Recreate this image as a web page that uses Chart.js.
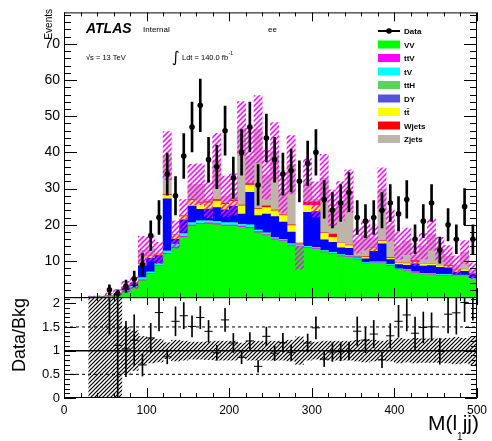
<!DOCTYPE html>
<html>
<head>
<meta charset="utf-8">
<script src="https://cdn.jsdelivr.net/npm/chart.js@4.4.0/dist/chart.umd.min.js"></script>
<style>
    html, body { margin: 0; padding: 0; background: #fff; }
    canvas { display: block; }
</style>
</head>
<body>
<canvas id="chart" width="492" height="441"></canvas>
<script>
// bin centres of M(ljj), 10 GeV bins
var binCenters = [35, 45, 55, 65, 75, 85, 95, 105, 115, 125, 135, 145, 155, 165, 175, 185, 195, 205, 215, 225,
    235, 245, 255, 265, 275, 285, 295, 305, 315, 325, 335, 345, 355, 365, 375, 385, 395, 405, 415, 425,
    435, 445, 455, 465, 475, 485, 495];

// stacked backgrounds, bottom to top
var vv = [0.05, 0.1, 0.25, 0.5, 1.6, 2.6, 4.5, 6.3, 8.6, 11.8, 13.5, 16.5, 19.6, 20.1, 20.2, 20.0, 19.6, 19.6, 19.3, 19.0,
    17.8, 17.0, 15.8, 15.4, 14.2, 13.8, 13.5, 13.2, 12.3, 11.8, 11.2, 11.0, 10.3, 9.1, 9.3, 9.3, 8.6, 7.4, 7.2, 6.6,
    6.2, 6.1, 5.9, 5.9, 5.7, 5.7, 4.9];
var ttv = [0, 0, 0, 0, 0.1, 0.1, 0.3, 0.2, 0.2, 0.3, 0.3, 0.3, 0.3, 0.3, 0.3, 0.3, 0.3, 0.3, 0.3, 0.3,
    0.3, 0.3, 0.3, 0.2, 0.2, 0.2, 0.2, 0.2, 0.2, 0.2, 0.2, 0.2, 0.2, 0.2, 0.2, 0.2, 0.2, 0.15, 0.15, 0.15,
    0.15, 0.15, 0.15, 0.15, 0.15, 0.15, 0.1];
var tv = [0, 0, 0, 0, 0.1, 0.2, 0.5, 0.4, 0.4, 0.6, 0.8, 0.7, 0.6, 0.6, 0.5, 0.6, 0.6, 0.6, 0.5, 0.6,
    0.4, 0.4, 0.3, 0.3, 0.3, 0.3, 0.3, 0.3, 0.3, 0.3, 0.3, 0.3, 0.3, 0.2, 0.2, 0.2, 0.2, 0.2, 0.2, 0.2,
    0.2, 0.2, 0.2, 0.2, 0.2, 0.2, 0.1];
var tth = [0, 0, 0, 0, 0, 0, 0.05, 0.05, 0.05, 0.05, 0.05, 0.05, 0.05, 0.05, 0.05, 0.05, 0.05, 0.05, 0.05, 0.05,
    0.05, 0.05, 0.05, 0.05, 0.05, 0.05, 0.05, 0.05, 0.05, 0.05, 0.05, 0.05, 0.05, 0.05, 0.05, 0.05, 0.05, 0.05, 0.05, 0.05,
    0.05, 0.05, 0.05, 0.05, 0.05, 0.05, 0.05];
var dy = [0.05, 0.05, 0.1, 0.2, 0.8, 1.0, 3.3, 3.8, 2.2, 14.4, 1.4, 3.8, 4.6, 3.2, 3.3, 3.8, 3.6, 4.6, 2.8, 9.0,
    4.0, 5.2, 5.8, 4.8, 3.2, 0.1, 9.4, 9.9, 3.0, 2.8, 1.9, 1.9, 0.3, 1.0, 2.9, 5.0, 1.3, 1.2, 1.2, 2.2,
    2.0, 2.2, 1.9, 1.8, 0.8, 1.0, 1.3];
var ttbar = [0, 0, 0, 0, 0.1, 0.1, 0.5, 0.5, 0.3, 1.0, 1.0, 0.9, 1.6, 1.6, 1.7, 1.8, 1.5, 1.3, 2.3, 2.0,
    1.8, 1.8, 1.6, 1.8, 1.8, 0.3, 1.9, 1.7, 1.8, 1.4, 1.2, 0.8, 0.2, 0.5, 0.8, 0.7, 0.4, 0.5, 0.5, 0.5,
    0.6, 0.5, 0.5, 0.5, 0.4, 0.5, 0];
var wjets = [0, 0, 0, 0, 0, 0, 0.1, 0.1, 0.1, 0.2, 0.1, 0.2, 0.2, 0.2, 0.3, 0.4, 0.3, 0.4, 0.2, 0.4,
    0.2, 0.5, 0.2, 0.2, 0.2, 0.2, 0.9, 1.0, 0.1, 0.9, 0.1, 0.1, 0, 0.2, 0.1, 0.1, 0.2, 0.1, 0.1, 0.4,
    0.1, 0.1, 0.1, 0.2, 0.2, 0.1, 0];
var zjets = [0, 0, 0.1, 0.2, 0.2, 0.1, 3.65, 2.05, 0.35, 10.75, 0.15, 0, 4.15, 5.15, 0.65, 10.75, 1.95, 1.55, 21.15, 7.65,
    21.85, 8.55, 16.15, 6.35, 16.65, 0, 5.65, 0.65, 15.15, 7.25, 11.65, 14.95, 4.25, 5.95, 2.75, 14.25, 8.85, 4.6, 6.0, 1.6,
    4.8, 8.0, 4.4, 2.5, 1.4, 4.7, 1.05];

// total prediction and its relative uncertainty
var bkgTotal = [0.1, 0.15, 0.45, 0.9, 2.9, 4.1, 12.9, 13.4, 12.2, 39.1, 17.3, 22.45, 31.1, 31.2, 27.0, 37.7, 27.9, 28.4, 46.6, 39.0,
    46.4, 33.8, 40.2, 29.1, 36.6, 10.9, 31.9, 27.0, 32.9, 24.7, 26.6, 29.3, 15.6, 17.2, 16.3, 29.8, 19.8, 14.2, 15.4, 11.7,
    14.1, 17.3, 13.2, 11.3, 8.9, 12.4, 7.3];
var bkgRelErr = [1.5, 1.5, 1.4, 1.3, 0.5, 0.42, 0.3, 0.26, 0.24, 0.17, 0.22, 0.2, 0.18, 0.18, 0.19, 0.2, 0.2, 0.2, 0.16, 0.2,
    0.2, 0.2, 0.2, 0.2, 0.22, 0.29, 0.2, 0.18, 0.2, 0.2, 0.2, 0.2, 0.22, 0.24, 0.22, 0.2, 0.22, 0.26, 0.24, 0.26,
    0.25, 0.25, 0.25, 0.26, 0.28, 0.26, 0.3];

// data
var dataCounts = [null, null, 2, 1, 3, 5, 9, 17, 22, 34, 28, 39, 47, 53, 38, 36, 46, 33, 40, 47,
    31, 44, 38, 34, 35, 32, 37, 40, 27, 24, 26, 29, 22, 21, 22, 24, 26, 23, 27, 16,
    21, 26, 13, 20, 16, 25, 16];
var dataErr = [null, null, 1.4, 1.0, 1.7, 2.2, 3.0, 4.1, 4.7, 5.8, 5.3, 6.2, 6.9, 7.3, 6.2, 6.0, 6.8, 5.7, 6.3, 6.9,
    5.6, 6.6, 6.2, 5.8, 5.9, 5.7, 6.1, 6.3, 5.2, 4.9, 5.1, 5.4, 4.7, 4.6, 4.7, 4.9, 5.1, 4.8, 5.2, 4.0,
    4.6, 5.1, 3.6, 4.5, 4.0, 5.0, 4.0];

var xTicks = [0, 100, 200, 300, 400, 500];
var mainTicks = [10, 20, 30, 40, 50, 60, 70];
var ratioTicks = [0, 0.5, 1, 1.5, 2];
var ratioRefs = [0.5, 1, 1.5];

var xMin = 0, xMax = 500, mainMax = 78.7, ratioMax = 2.13;
var FONT = "'Liberation Sans', Arial, Helvetica, sans-serif";

var canvas = document.getElementById('chart');
var ctx0 = canvas.getContext('2d');

function hatch(color, size, width) {
    var c = document.createElement('canvas');
    c.width = size; c.height = size;
    var g = c.getContext('2d');
    g.strokeStyle = color;
    g.lineWidth = width;
    g.beginPath();
    g.moveTo(0, size); g.lineTo(size, 0);
    g.moveTo(-1, 1); g.lineTo(1, -1);
    g.moveTo(size - 1, size + 1); g.lineTo(size + 1, size - 1);
    g.stroke();
    return ctx0.createPattern(c, 'repeat');
}

var series = [
    { label: 'VV', values: vv, color: '#00ff00', legend: '#00ff00' },
    { label: 'ttV', values: ttv, color: '#ff00ff', legend: '#ff00ff' },
    { label: 'tV', values: tv, color: '#00ffff', legend: '#00ffff' },
    { label: 'ttH', values: tth, color: '#5ad35a', legend: '#5ad35a' },
    { label: 'DY', values: dy, color: '#0000ff', legend: '#5454d8' },
    { label: 't\u0074\u0304', values: ttbar, color: '#ffff00', legend: '#ffff00' },
    { label: 'Wjets', values: wjets, color: '#ff0000', legend: '#ff0000' },
    { label: 'Zjets', values: zjets, color: '#bfb4a8', legend: '#bfb4a8' }
];

function pts(values) {
    return binCenters.map(function (c, i) { return { x: c, y: values[i] }; });
}

var binWidth = binCenters[1] - binCenters[0];

var bandMain = [], bandRatio = [], dataPts = [], dataBars = [], ratioPts = [], ratioBars = [];
binCenters.forEach(function (c, i) {
    var t = bkgTotal[i], rel = bkgRelErr[i];
    bandMain.push({ x: c, y: [Math.max(t * (1 - rel), 0), Math.min(t * (1 + rel), mainMax)] });
    bandRatio.push({ x: c, y: [Math.max(1 - rel, 0), Math.min(1 + rel, ratioMax)] });
    var d = dataCounts[i];
    if (d === null) return;
    var e = dataErr[i];
    dataPts.push({ x: c, y: d });
    dataBars.push({ x: c, y: [Math.max(d - e, 0), d + e] });
    var r = d / t, re = e / t;
    if (r <= ratioMax) ratioPts.push({ x: c, y: r });
    var lo = Math.max(r - re, 0), hi = Math.min(r + re, ratioMax);
    if (lo < hi) ratioBars.push({ x: c, y: [lo, hi] });
});

var barBase = { type: 'bar', grouped: false, barPercentage: 1, categoryPercentage: 1, borderWidth: 0 };
function bar(extra) { return Object.assign({}, barBase, extra); }

var datasets = [];
series.forEach(function (s) {
    datasets.push(bar({ label: s.label, data: pts(s.values), backgroundColor: s.color, stack: 'bkg', yAxisID: 'y', order: 5 }));
});
datasets.push(bar({ label: 'unc', data: bandMain, backgroundColor: hatch('#ff00ff', 5, 1.5), stack: 'unc', yAxisID: 'y', order: 3 }));
datasets.push(bar({ label: 'dataErr', data: dataBars, backgroundColor: '#000', stack: 'derr', barThickness: 2, yAxisID: 'y', order: 1 }));
datasets.push({ type: 'line', label: 'Data', data: dataPts, showLine: false, yAxisID: 'y', order: 0,
    pointRadius: 2.8, pointBackgroundColor: '#000', pointBorderWidth: 0 });

datasets.push(bar({ label: 'ratioUnc', data: bandRatio, backgroundColor: hatch('#000', 4, 1.2), stack: 'runc', yAxisID: 'y2', order: 3 }));
ratioRefs.forEach(function (v) {
    datasets.push({ type: 'line', label: 'ref', data: [{ x: xMin, y: v }, { x: xMax, y: v }], yAxisID: 'y2', order: 2,
        borderColor: '#000', borderWidth: v === 1 ? 1.5 : 1, borderDash: v === 1 ? [] : [3, 3], pointRadius: 0 });
});
datasets.push(bar({ label: 'ratioErr', data: ratioBars, backgroundColor: '#000', stack: 'rerr', barThickness: 1, yAxisID: 'y2', order: 1 }));
datasets.push({ type: 'line', label: 'ratio', data: ratioPts, showLine: false, yAxisID: 'y2', order: 0,
    pointStyle: 'line', pointBorderColor: '#000', pointBorderWidth: 1,
    pointRadius: function (ctx) {
        var xs = ctx.chart.scales.x;
        return (xs.getPixelForValue(binWidth) - xs.getPixelForValue(0)) / 2;
    } });

function near(v, list) {
    return list.some(function (t) { return Math.abs(t - v) < 1e-6; });
}

var decorations = {
    id: 'decorations',
    afterDraw: function (chart) {
        var ctx = chart.ctx;
        var x = chart.scales.x, y = chart.scales.y, r = chart.scales.y2;
        var L = x.left, R = x.right;
        ctx.save();
        ctx.strokeStyle = '#000';
        ctx.lineWidth = 1;
        ctx.setLineDash([]);

        // frames
        ctx.strokeRect(L + 0.5, y.top + 0.5, R - L - 1, y.bottom - y.top);
        ctx.strokeRect(L + 0.5, r.top + 0.5, R - L - 1, r.bottom - r.top - 1);

        ctx.beginPath();
        // y ticks of the main panel
        for (var k = 0; k * 2 <= y.max; k++) {
            var v = k * 2, big = v % 10 === 0;
            var py = Math.round(y.getPixelForValue(v)) + 0.5;
            var len = big ? 13 : 7;
            ctx.moveTo(L, py); ctx.lineTo(L + len, py);
            ctx.moveTo(R, py); ctx.lineTo(R - len, py);
        }
        // y ticks of the ratio panel
        for (k = 0; k * 0.1 <= r.max + 1e-9; k++) {
            var rv = k * 0.1, rbig = k % 5 === 0;
            var ry = Math.round(r.getPixelForValue(rv)) + 0.5;
            var rlen = rbig ? 12 : 6;
            ctx.moveTo(L, ry); ctx.lineTo(L + rlen, ry);
            ctx.moveTo(R, ry); ctx.lineTo(R - rlen, ry);
        }
        // x ticks
        for (k = 0; k * 20 <= xMax; k++) {
            var xv = k * 20, xbig = xv % 100 === 0;
            var px = Math.round(x.getPixelForValue(xv)) + 0.5;
            ctx.moveTo(px, y.top); ctx.lineTo(px, y.top + (xbig ? 9 : 4));
            ctx.moveTo(px, y.bottom); ctx.lineTo(px, y.bottom - (xbig ? 9 : 4));
            ctx.moveTo(px, r.top); ctx.lineTo(px, r.top + (xbig ? 8 : 4));
            ctx.moveTo(px, r.bottom); ctx.lineTo(px, r.bottom - (xbig ? 10 : 5));
        }
        ctx.stroke();

        // texts
        ctx.fillStyle = '#000';
        ctx.textAlign = 'left';
        ctx.textBaseline = 'alphabetic';
        ctx.font = 'italic bold 14px ' + FONT;
        ctx.fillText('ATLAS', 86, 33);
        ctx.font = '8px ' + FONT;
        ctx.fillText('Internal', 143, 32);
        ctx.fillText('ee', 268, 32);
        ctx.font = '7.5px ' + FONT;
        ctx.fillText('\u221As = 13 TeV', 86, 60);
        ctx.fillText('Ldt = 140.0 fb', 182, 60);
        var w = ctx.measureText('Ldt = 140.0 fb').width;
        ctx.font = '5px ' + FONT;
        ctx.fillText('-1', 182 + w + 0.5, 55);
        ctx.font = "15px 'DejaVu Sans', " + FONT;
        ctx.fillText('\u222B', 172, 62);

        // axis titles
        ctx.save();
        ctx.translate(52, 9);
        ctx.rotate(-Math.PI / 2);
        ctx.textAlign = 'right';
        ctx.font = '10px ' + FONT;
        ctx.fillText('Events', 0, 0);
        ctx.restore();

        ctx.save();
        ctx.translate(25, 335);
        ctx.rotate(-Math.PI / 2);
        ctx.textAlign = 'center';
        ctx.font = '18px ' + FONT;
        ctx.fillText('Data/Bkg', 0, 0);
        ctx.restore();

        ctx.font = '21px ' + FONT;
        var w1 = ctx.measureText('M(l').width, w2 = ctx.measureText('jj)').width;
        ctx.font = '10px ' + FONT;
        var ws = ctx.measureText('1').width;
        var x0 = R + 2 - (w1 + ws + w2);
        ctx.font = '21px ' + FONT;
        ctx.fillText('M(l', x0, 430);
        ctx.fillText('jj)', x0 + w1 + ws, 430);
        ctx.font = '10px ' + FONT;
        ctx.fillText('1', x0 + w1, 440);

        // legend
        var rowY = 31, step = 13.5;
        ctx.lineWidth = 2;
        ctx.beginPath();
        ctx.moveTo(378, rowY); ctx.lineTo(400, rowY);
        ctx.stroke();
        ctx.beginPath();
        ctx.arc(389, rowY, 2.8, 0, Math.PI * 2);
        ctx.fill();
        ctx.font = 'bold 8px ' + FONT;
        ctx.fillText('Data', 404, rowY + 3);
        series.forEach(function (s, i) {
            var cy = rowY + step * (i + 1);
            ctx.fillStyle = s.legend;
            ctx.fillRect(378, cy - 4, 22, 8);
            ctx.fillStyle = '#000';
            ctx.fillText(s.label, 404, cy + 3);
        });
        ctx.restore();
    }
};

new Chart(canvas, {
    type: 'bar',
    data: { datasets: datasets },
    options: {
        responsive: false,
        animation: false,
        events: [],
        layout: { padding: { top: 12, right: 12, left: 0, bottom: 0 } },
        plugins: { legend: { display: false }, tooltip: { enabled: false } },
        scales: {
            x: {
                type: 'linear', min: xMin, max: xMax, offset: false,
                grid: { display: false, drawTicks: false }, border: { display: false },
                ticks: {
                    stepSize: 100, autoSkip: false, maxRotation: 0, padding: 5, color: '#000',
                    font: { family: FONT, size: 12 },
                    callback: function (v) { return near(v, xTicks) ? String(v) : ''; }
                },
                afterFit: function (s) { s.height = 43; }
            },
            y: {
                type: 'linear', position: 'left', stack: 'panels', stackWeight: 285, weight: 2,
                min: 0, max: mainMax,
                grid: { display: false, drawTicks: false }, border: { display: false },
                ticks: {
                    stepSize: 10, autoSkip: false, includeBounds: false, padding: 4, color: '#000',
                    font: { family: FONT, size: 14 },
                    callback: function (v) { return near(v, mainTicks) ? String(v) : ''; }
                },
                afterFit: function (s) { s.width = 64; }
            },
            y2: {
                type: 'linear', position: 'left', stack: 'panels', stackWeight: 101, weight: 1,
                min: 0, max: ratioMax,
                grid: { display: false, drawTicks: false }, border: { display: false },
                ticks: {
                    stepSize: 0.5, autoSkip: false, includeBounds: false, padding: 4, color: '#000',
                    font: { family: FONT, size: 13 },
                    callback: function (v) { return near(v, ratioTicks) ? String(v) : ''; }
                },
                afterFit: function (s) { s.width = 64; }
            }
        }
    },
    plugins: [decorations]
});
</script>
</body>
</html>
